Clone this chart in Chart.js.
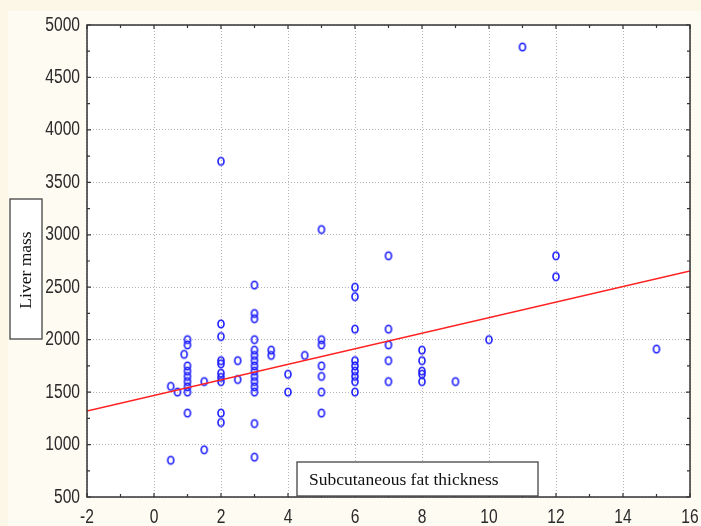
<!DOCTYPE html>
<html>
<head>
<meta charset="utf-8">
<script src="https://cdn.jsdelivr.net/npm/chart.js@4.4.1/dist/chart.umd.min.js"></script>
<style>
  html, body { margin: 0; padding: 0; background: #fcf7e6; }
  #wrap { width: 701px; height: 526px; }
</style>
</head>
<body>
<div id="wrap"><canvas id="g_liver"></canvas></div>
<script>
// fat thickness (x) and liver mass (y)
var fatX = [0.5, 0.5, 0.7, 0.9,
    1, 1, 1, 1, 1, 1, 1, 1, 1,
    1.5, 1.5,
    2, 2, 2, 2, 2, 2, 2, 2, 2, 2,
    2.5, 2.5,
    3, 3, 3, 3, 3, 3, 3, 3, 3, 3, 3, 3, 3, 3, 3,
    3.5, 3.5, 4, 4, 4.5,
    5, 5, 5, 5, 5, 5, 5,
    6, 6, 6, 6, 6, 6, 6, 6, 6,
    7, 7, 7, 7, 7,
    8, 8, 8, 8, 8,
    9, 10, 11, 12, 12, 15];
var liverY = [1555, 850, 1500, 1860,
    2000, 1950, 1750, 1700, 1650, 1600, 1550, 1500, 1300,
    1600, 950,
    3700, 2150, 2030, 1800, 1770, 1680, 1640, 1600, 1300, 1210,
    1800, 1620,
    2520, 2250, 2200, 2000, 1900, 1850, 1800, 1750, 1700, 1650, 1600, 1550, 1500, 1200, 880,
    1900, 1850, 1670, 1500, 1850,
    3050, 2000, 1950, 1750, 1650, 1500, 1300,
    2500, 2410, 2100, 1800, 1750, 1700, 1650, 1600, 1500,
    2800, 2100, 1950, 1800, 1600,
    1900, 1800, 1700, 1670, 1600,
    1600, 2000, 4790, 2800, 2600, 1910];
// regression line ends
var fitX = [-2, 16];
var fitY = [1320, 2655];

var xTicks = [-2, 0, 2, 4, 6, 8, 10, 12, 14, 16];
var yTicks = [500, 1000, 1500, 2000, 2500, 3000, 3500, 4000, 4500, 5000];

var tickFont = '20px "Liberation Sans Narrow", "Arial Narrow", "Liberation Sans", Arial, sans-serif';
var boxFont = '17.5px "Liberation Serif", "Times New Roman", serif';

// little "0" shaped marker like the original
function makeMarker(){
    var c = document.createElement('canvas');
    c.width = 10; c.height = 12;
    var g = c.getContext('2d');
    g.strokeStyle = '#1c1cff';
    g.lineWidth = 1.6;
    g.beginPath();
    g.ellipse(5, 6, 3, 3.8, 0, 0, Math.PI * 2);
    g.stroke();
    return c;
}

var puntos = [];
for (let i = 0; i < fatX.length; i++) {
    puntos.push({ x: fatX[i], y: liverY[i] });
}
var recta = [];
for (let i = 0; i < fitX.length; i++) {
    recta.push({ x: fitX[i], y: fitY[i] });
}

// narrow looking labels: squeeze the regular font sideways
function narrowText(ctx, txt, x, y, align){
    var k = 0.78;
    var w = ctx.measureText(txt).width * k;
    var left = align === 'right' ? x - w : (align === 'center' ? x - w / 2 : x);
    ctx.save();
    ctx.translate(left, y);
    ctx.scale(k, 1);
    ctx.textAlign = 'left';
    ctx.fillText(txt, 0, 0);
    ctx.restore();
}

var marcoPlugin = {
    id: 'marco',
    beforeDraw: function(chart){
        var ctx = chart.ctx, a = chart.chartArea;
        ctx.save();
        ctx.fillStyle = '#fcf7e6';
        ctx.fillRect(0, 0, chart.width, chart.height);
        ctx.fillStyle = '#fefbf2';
        ctx.fillRect(8, 11, chart.width - 8, chart.height - 11);
        ctx.fillStyle = '#ffffff';
        ctx.fillRect(a.left, a.top, a.right - a.left, a.bottom - a.top);
        ctx.restore();
    },
    afterDraw: function(chart){
        var ctx = chart.ctx, a = chart.chartArea;
        var sx = chart.scales.x, sy = chart.scales.y;
        ctx.save();
        ctx.strokeStyle = '#333333';
        ctx.lineWidth = 1.5;
        ctx.strokeRect(a.left, a.top, a.right - a.left, a.bottom - a.top);
        ctx.lineWidth = 1.2;
        ctx.beginPath();
        for (let v = -2; v <= 16; v += 1) {
            var px = sx.getPixelForValue(v);
            var len = (v % 2 === 0) ? 4 : 3;
            ctx.moveTo(px, a.bottom); ctx.lineTo(px, a.bottom - len);
            ctx.moveTo(px, a.top); ctx.lineTo(px, a.top + len);
        }
        for (let v = 500; v <= 5000; v += 250) {
            var py = sy.getPixelForValue(v);
            var len2 = (v % 500 === 0) ? 4 : 3;
            ctx.moveTo(a.left, py); ctx.lineTo(a.left + len2, py);
            ctx.moveTo(a.right, py); ctx.lineTo(a.right - len2, py);
        }
        ctx.stroke();

        // tick labels
        ctx.fillStyle = '#2a2a2a';
        ctx.font = tickFont;
        ctx.textBaseline = 'middle';
        for (let i = 0; i < yTicks.length; i++) {
            narrowText(ctx, String(yTicks[i]), a.left - 7, sy.getPixelForValue(yTicks[i]), 'right');
        }
        ctx.textBaseline = 'top';
        for (let i = 0; i < xTicks.length; i++) {
            narrowText(ctx, String(xTicks[i]), sx.getPixelForValue(xTicks[i]), a.bottom + 10, 'center');
        }

        // axis title boxes
        ctx.fillStyle = '#ffffff';
        ctx.strokeStyle = '#444444';
        ctx.lineWidth = 1.3;
        ctx.fillRect(10, 199, 32, 140);
        ctx.strokeRect(10, 199, 32, 140);
        ctx.fillRect(297, 462, 241, 34);
        ctx.strokeRect(297, 462, 241, 34);

        ctx.fillStyle = '#111111';
        ctx.font = boxFont;
        ctx.textBaseline = 'middle';
        ctx.textAlign = 'left';
        ctx.fillText('Subcutaneous fat thickness', 309, 480);
        ctx.translate(26, 270);
        ctx.rotate(-Math.PI / 2);
        ctx.textAlign = 'center';
        ctx.fillText('Liver mass', 0, 0);
        ctx.restore();
    }
};

var ctx = document.getElementById('g_liver');
var scatterChart = new Chart(ctx, {
    type: 'scatter',
    data: {
        datasets: [{
            label: 'Liver mass',
            data: puntos,
            pointStyle: makeMarker(),
            order: 1
        },
        {
            label: 'fit',
            data: recta,
            type: 'line',
            showLine: true,
            borderColor: '#ff2020',
            borderWidth: 1.4,
            pointRadius: 0,
            fill: false,
            order: 0
        }]
    },
    options: {
        responsive: true,
        maintainAspectRatio: false,
        animation: false,
        layout: { padding: { left: 0, right: 11, top: 25, bottom: 0 } },
        plugins: {
            legend: { display: false },
            tooltip: { enabled: false }
        },
        scales: {
            x: {
                type: 'linear',
                min: -2, max: 16,
                afterBuildTicks: function(s){ s.ticks = xTicks.map(function(v){ return { value: v }; }); },
                afterFit: function(s){ s.height = 29; },
                grid: { color: '#b4b4b4', lineWidth: 1, drawTicks: false },
                border: { display: false, dash: [1, 2] },
                ticks: { display: false }
            },
            y: {
                type: 'linear',
                min: 500, max: 5000,
                afterBuildTicks: function(s){ s.ticks = yTicks.map(function(v){ return { value: v }; }); },
                afterFit: function(s){ s.width = 87; },
                grid: { color: '#b4b4b4', lineWidth: 1, drawTicks: false },
                border: { display: false, dash: [1, 2] },
                ticks: { display: false }
            }
        }
    },
    plugins: [marcoPlugin]
});
</script>
</body>
</html>
